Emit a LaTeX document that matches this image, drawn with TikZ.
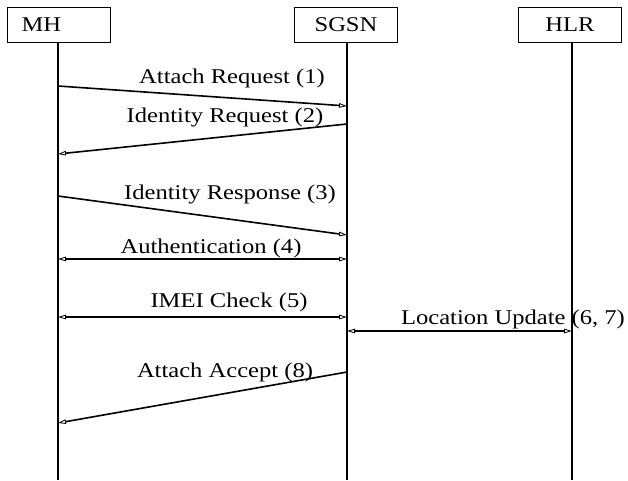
\documentclass[tikz,border=0pt]{standalone}
\usepackage{fontspec}
\setmainfont[FakeStretch=1.17]{Liberation Serif}
\usetikzlibrary{arrows.meta}
\begin{document}
\begin{tikzpicture}[x=1pt,y=-1pt,
  entity/.style={draw,line width=1.5pt,minimum width=103pt,minimum height=35pt,
    inner sep=0pt,font=\fontsize{21}{24}\selectfont},
  lifeline/.style={line width=1.6pt},
  msg/.style={line width=1.6pt,-{Triangle[open,length=8pt,width=4.5pt,line width=0.8pt]}},
  bimsg/.style={line width=1.6pt,{Triangle[open,length=8pt,width=4.5pt,line width=0.8pt]}-{Triangle[open,length=8pt,width=4.5pt,line width=0.8pt]}},
  lbl/.style={anchor=base,inner sep=0pt,font=\fontsize{21}{24}\selectfont}]
\useasboundingbox (0,0) rectangle (628,480);

% participants
\node[entity,text width=75pt,align=left] (mh) at (59,25) {\raisebox{-3pt}{MH}};
\node[entity] (sgsn) at (346,25) {\raisebox{-1pt}{SGSN}};
\node[entity] (hlr) at (570,25) {\raisebox{-2pt}{HLR}};

% lifelines
\coordinate (mhEnd) at (58,480);
\coordinate (sgEnd) at (347,480);
\coordinate (hlEnd) at (572,480);
\draw[lifeline] (58,42) -- (mhEnd);
\draw[lifeline] (347,42) -- (sgEnd);
\draw[lifeline] (572,42) -- (hlEnd);

% message end points
\coordinate (a1) at (58,86);   \coordinate (b1) at (347,106);
\coordinate (a2) at (347,124); \coordinate (b2) at (58,154);
\coordinate (a3) at (58,196);  \coordinate (b3) at (347,235);
\coordinate (a4) at (58,259);  \coordinate (b4) at (347,259);
\coordinate (a5) at (58,317);  \coordinate (b5) at (347,317);
\coordinate (a6) at (347,331); \coordinate (b6) at (572,331);
\coordinate (a8) at (347,372); \coordinate (b8) at (58,423);

% messages
\draw[msg] (a1) -- (b1);
\draw[msg] (a2) -- (b2);
\draw[msg] (a3) -- (b3);
\draw[bimsg] (a4) -- (b4);
\draw[bimsg] (a5) -- (b5);
\draw[bimsg] (a6) -- (b6);
\draw[msg] (a8) -- (b8);

% labels
\node[lbl] (l1) at (232,83) {Attach Request (1)};
\node[lbl] (l2) at (225,122) {Identity Request (2)};
\node[lbl] (l3) at (230,199) {Identity Response (3)};
\node[lbl] (l4) at (211,253) {Authentication (4)};
\node[lbl] (l5) at (229,307) {IMEI Check (5)};
\node[lbl] (l6) at (513,324) {Location Update (6, 7)};
\node[lbl] (l8) at (225,377) {Attach Accept (8)};
\end{tikzpicture}
\end{document}
